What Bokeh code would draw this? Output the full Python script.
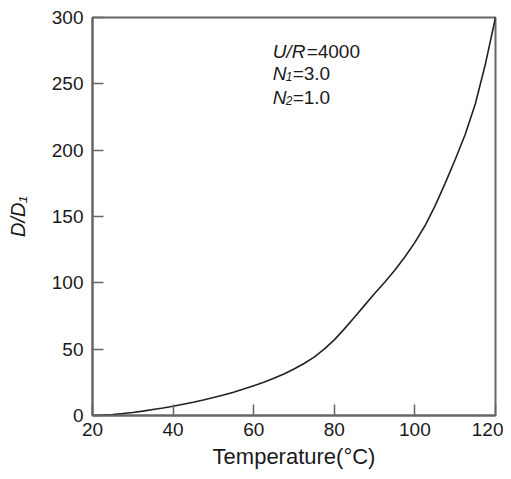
from bokeh.plotting import figure
from bokeh.models import Range1d, FixedTicker, Label
from bokeh.embed import file_html
from bokeh.resources import INLINE

# Data
temperature = [20, 22.5, 25, 27.5, 30, 32.5, 35, 37.5, 40, 42.5, 45, 47.5, 50, 52.5, 55, 57.5,
               60, 62.5, 65, 67.5, 70, 72.5, 75, 77.5, 80, 82.5, 85, 87.5, 90, 92.5, 95, 97.5,
               100, 102.5, 105, 107.5, 110, 112.5, 115, 117.5, 120]
d_ratio = [0, 0.3, 0.8, 1.5, 2.3, 3.3, 4.5, 5.7, 7, 8.5, 10, 11.7, 13.5, 15.4, 17.5, 19.9,
           22.5, 25.1, 28, 31.3, 35, 39.2, 44, 50, 57, 65.3, 74, 83, 92, 100.5, 109.5, 119.5,
           130.5, 143, 158, 175, 193, 212, 235, 265, 300]
x_ticks = [20, 40, 60, 80, 100, 120]
y_ticks = [0, 50, 100, 150, 200, 250, 300]

FONT = "Liberation Sans"
AXIS_COLOR = "#666666"

p = figure(width=503, height=471, output_backend="svg", toolbar_location=None,
           x_range=Range1d(20, 120), y_range=Range1d(0, 300),
           min_border_left=92, min_border_right=8, min_border_top=17, min_border_bottom=52)
p.background_fill_color = "white"
p.border_fill_color = "white"
p.grid.visible = False
p.outline_line_color = AXIS_COLOR
p.outline_line_width = 2

p.line(temperature, d_ratio, line_color="#222222", line_width=1.6)

for ax in (p.xaxis[0], p.yaxis[0]):
    ax.axis_line_color = AXIS_COLOR
    ax.axis_line_width = 2
    ax.major_tick_line_color = AXIS_COLOR
    ax.major_tick_line_width = 1.5
    ax.major_tick_in = 11
    ax.major_tick_out = 0
    ax.minor_tick_line_color = None
    ax.major_label_text_font = FONT
    ax.major_label_text_font_size = "19px"
    ax.major_label_text_color = "#1a1a1a"
    ax.axis_label_text_font = FONT
    ax.axis_label_text_color = "#1a1a1a"

p.xaxis.ticker = FixedTicker(ticks=x_ticks)
p.yaxis.ticker = FixedTicker(ticks=y_ticks)
p.xaxis.major_label_standoff = 7
p.yaxis.major_label_standoff = 9

p.xaxis.axis_label = "Temperature(°C)"
p.xaxis.axis_label_text_font_size = "22px"
p.xaxis.axis_label_text_font_style = "normal"
p.xaxis.axis_label_standoff = 5

p.yaxis.axis_label = "D/D₁"
p.yaxis.axis_label_text_font_size = "20px"
p.yaxis.axis_label_text_font_style = "italic"
p.yaxis.axis_label_standoff = 20

# Annotation block
ann_x = 64.7
line1_y, line2_y, line3_y = 274, 257.5, 240

def add(text, y, xoff, size, style, yoff=0):
    p.add_layout(Label(x=ann_x, y=y, x_offset=xoff, y_offset=yoff, text=text,
                       text_font=FONT, text_font_size=size, text_font_style=style,
                       text_color="#1a1a1a", text_align="left", text_baseline="alphabetic"))

add("U/R", line1_y, 0, "19px", "italic")
add("=4000", line1_y, 34, "19px", "normal")
add("N", line2_y, 0, "19px", "italic")
add("1", line2_y, 13, "12px", "italic", yoff=-3)
add("=3.0", line2_y, 20, "19px", "normal")
add("N", line3_y, 0, "19px", "italic")
add("2", line3_y, 13, "12px", "italic", yoff=-3)
add("=1.0", line3_y, 20, "19px", "normal")

open("out.html", "w").write(file_html(p, INLINE))
